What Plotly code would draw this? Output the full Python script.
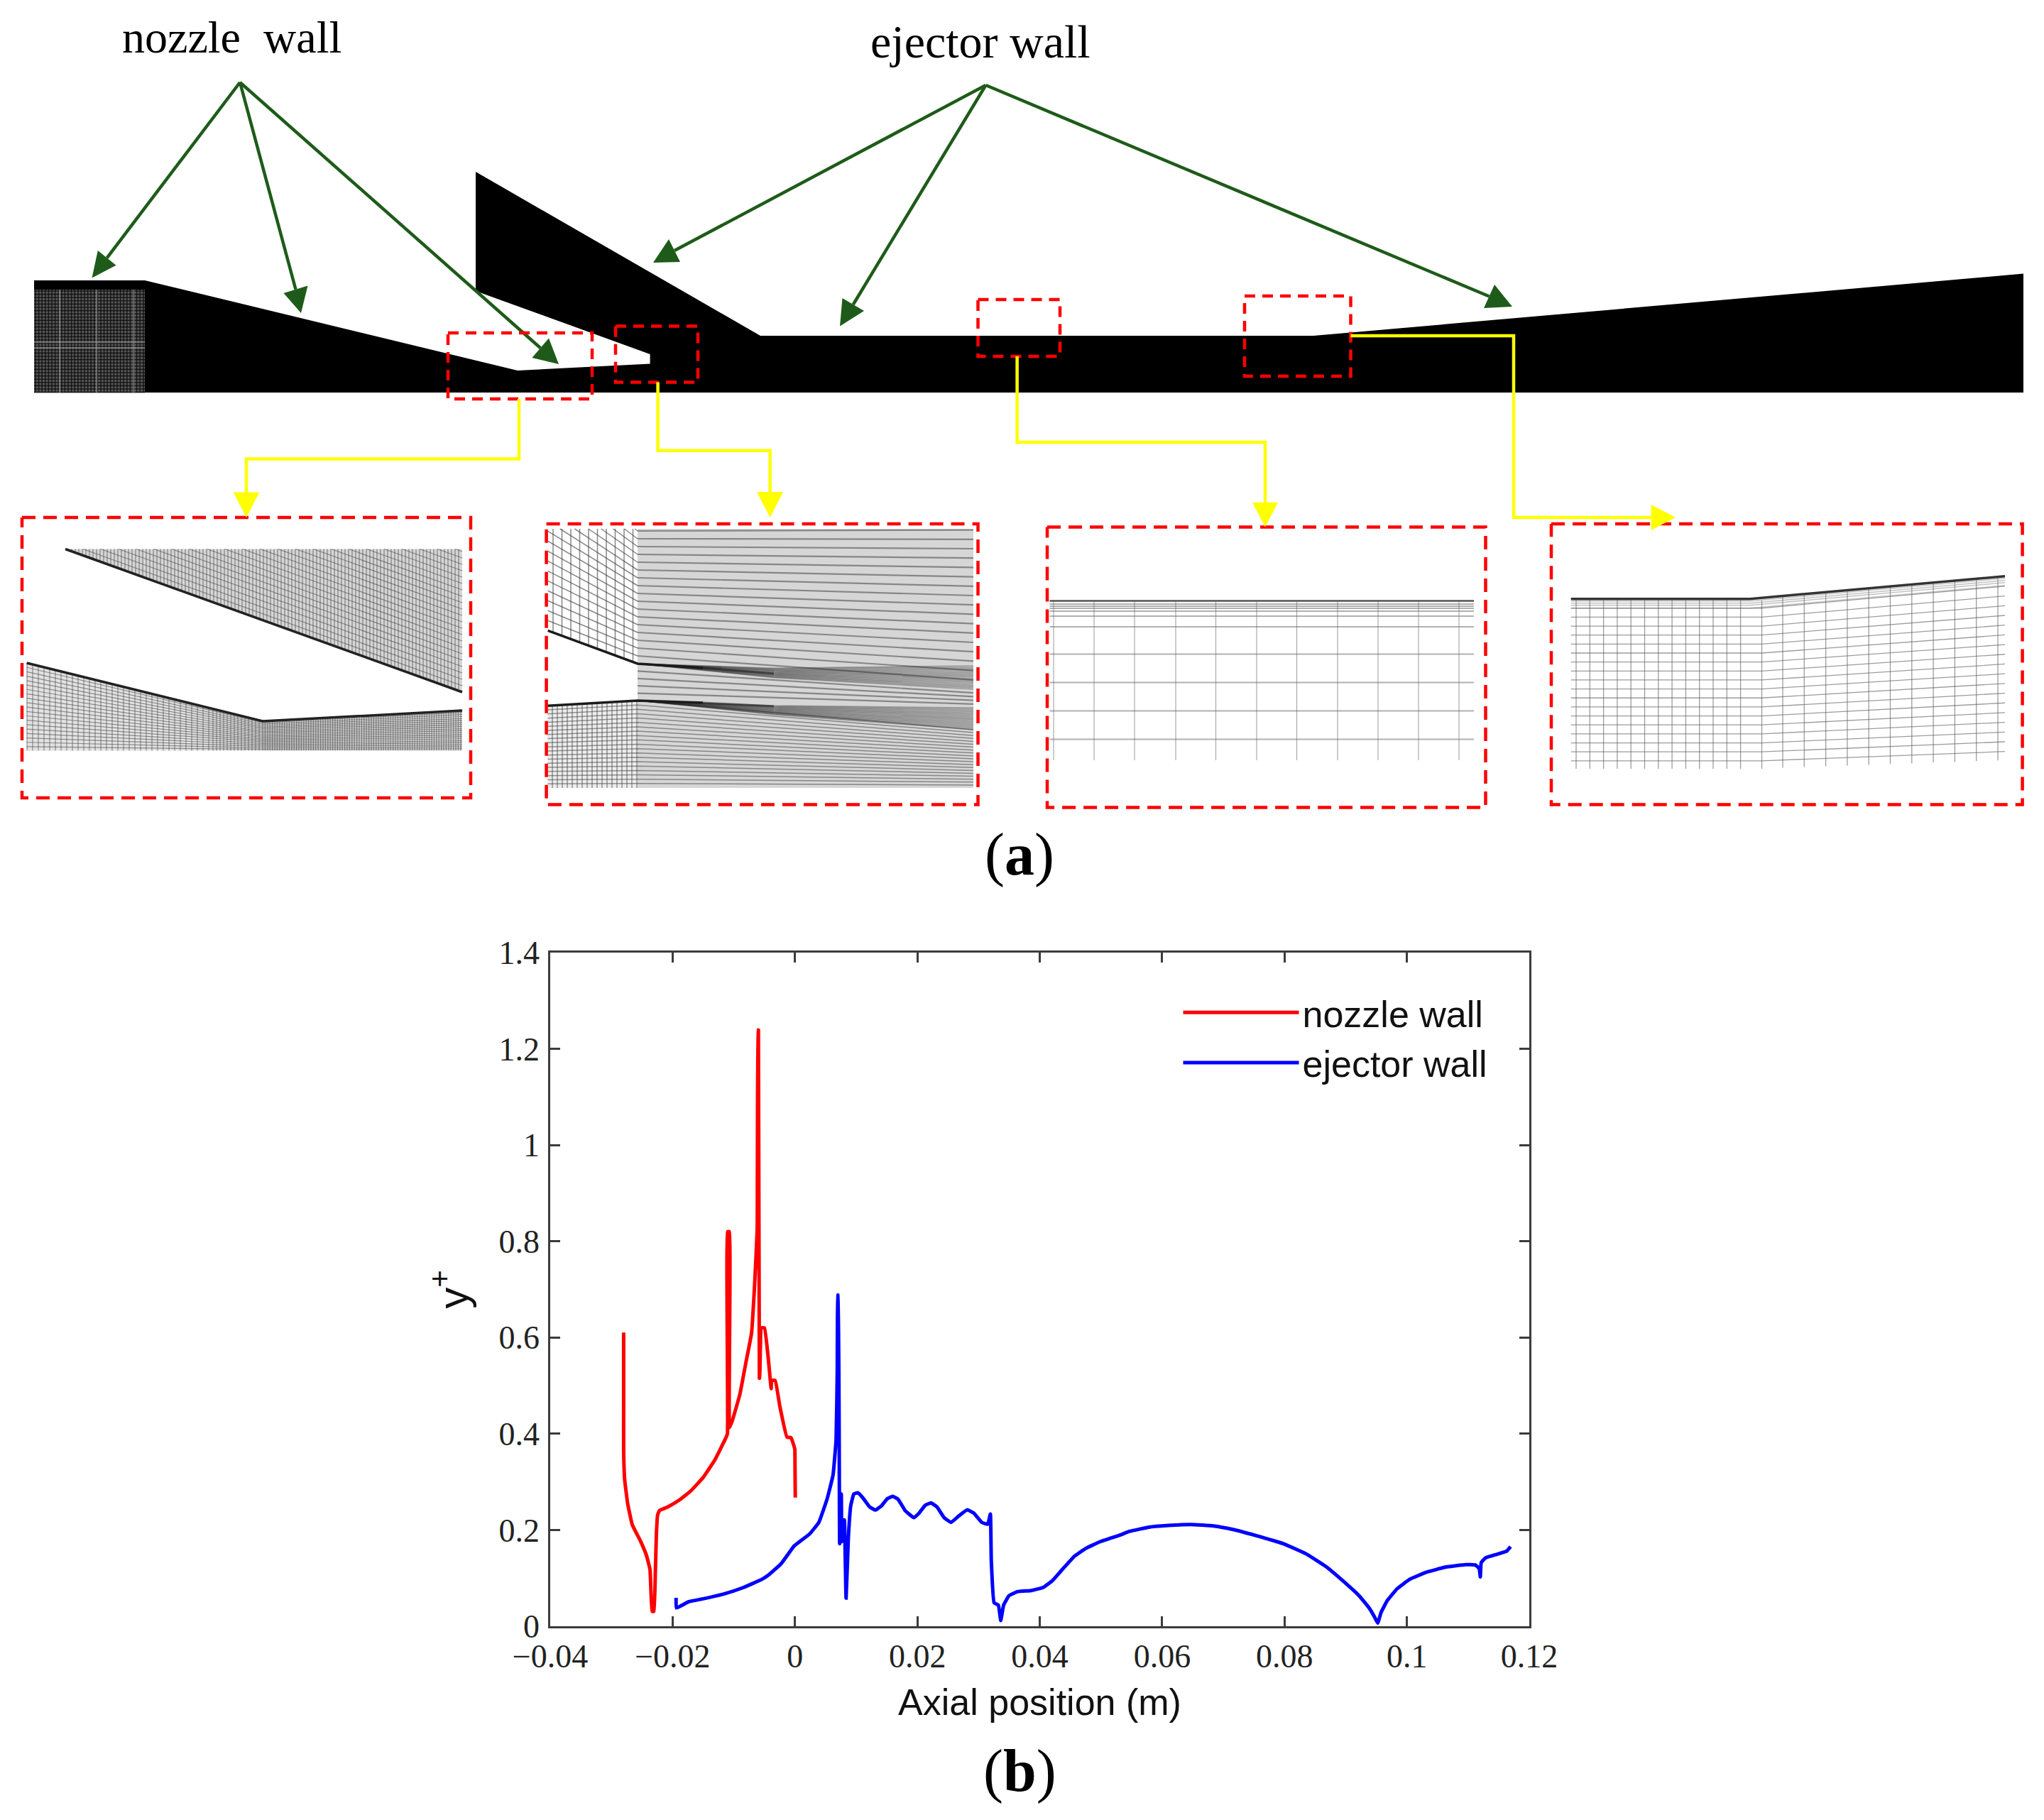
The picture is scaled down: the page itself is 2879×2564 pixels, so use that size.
import numpy as np
import plotly.graph_objects as go

W, H = 2879, 2564

# ---------- chart (b) data ----------
x_ticks = [-0.04, -0.02, 0, 0.02, 0.04, 0.06, 0.08, 0.1, 0.12]
x_tick_labels = ["\u22120.04", "\u22120.02", "0", "0.02", "0.04", "0.06", "0.08", "0.1", "0.12"]
y_ticks = [0, 0.2, 0.4, 0.6, 0.8, 1, 1.2, 1.4]
y_tick_labels = ["0", "0.2", "0.4", "0.6", "0.8", "1", "1.2", "1.4"]

nozzle_x = [-.0280, -.0280, -.0280, -.02783, -.02735, -.02659, -.02523, -.02427, -.02369, -.02335, -.02306, -.02281,
            -.02265, -.02246, -.02215, -.0208, -.01887, -.01694, -.01501, -.01308, -.01134, -.01104, -.01102, -.01072,
            -.0107, -.01018, -.00902, -.00806, -.0071, -.0066, -.00618, -.00603, -.00598, -.00582, -.00577, -.0055,
            -.00499, -.00439, -.00389, -.00381, -.00323, -.00247, -.00131, -.00065, -.00003, 0, .00005]
nozzle_y = [.6105, .4617, .3633, .3043, .2552, .2109, .1765, .147, .1175, .031, .031, .1175,
            .1913, .2305, .2404, .2478, .2625, .2822, .3093, .3461, .3904, .40, .82, .82,
            .4125, .4297, .4813, .5453, .609, .709, .823, 1.239, 1.239, .5157, .5157, .62,
            .62, .56, .4937, .5107, .5107, .4566, .3928, .3918, .3683, .34, .2674]
ejector_x = [-.01943, -.01938, -.01735, -.01501, -.01164, -.00852, -.0054, -.0042, -.00227, -.00015, .00043, .00236,
             .0039, .00526, .00622, .00672, .00691, .00699, .00705, .0073, .00757, .00765, .00807, .00835, .00873,
             .00911, .00961, .01027, .01105, .01221, .01317, .01413, .0151, .01595, .01684, .018, .01942, .02031,
             .02127, .02223, .02321, .02437, .02552, .02668, .02814, .02918, .03054, .0315, .03193, .03208, .03254,
             .03324, .03363, .03409, .03497, .03633, .03865, .04058, .04212, .04366, .04559, .04753, .04984, .05312,
             .05464, .05785, .06105, .06472, .06838, .07159, .07526, .07984, .0835, .08671, .08992, .09221, .09381,
             .09473, .09523, .09578, .09679, .0984, .10046, .1032, .10641, .10962, .11122, .11182, .112, .11214,
             .11283, .11466, .11627, .11695]
ejector_y = [.059, .038, .051, .057, .067, .080, .0975, .1077, .1298, .1667, .1726, .1913,
             .2158, .265, .3142, .388, .533, .688, .688, .1715, .2748, .176, .2208, .0585, .1863,
             .2503, .2748, .2773, .2674, .2478, .2414, .2503, .265, .2699, .264, .2404, .2257, .2355,
             .2512, .2562, .2478, .2257, .2158, .2282, .2419, .2355, .2158, .212, .233, .1372, .0487,
             .0438, .0118, .0438, .0634, .0718, .0742, .0807, .0954, .1176, .1445, .1618, .1755, .1895,
             .197, .2059, .2094, .2115, .2084, .201, .1887, .1714, .1507, .1246, .0901, .0631, .0384,
             .0187, .0064, .0286, .0532, .0778, .0975, .1123, .1232, .1281, .1271, .1197, .1025, .132,
             .1419, .1493, .1557, .1655]

# ---------- schematic (a) outline, read in picture pixels ----------
domain_x = [48, 204, 729, 915.6, 915.6, 670, 670, 1071, 1850, 2850, 2850, 48, 48]
domain_y = [395, 395, 522, 512.5, 499, 410, 242, 473, 473, 385.5, 553, 553, 395]
arrow_nozzle = [[338, 116], [129.5, 391.5, 137.8, 353, 163.5, 373.7],
                [424, 441, 399.5, 413, 433.5, 402.5], [787, 513, 749.4, 504, 773, 476.5]]
arrow_ejector = [[1388.5, 120], [920, 370, 958, 369, 942, 337],
                 [1183, 459.5, 1186.5, 420, 1217, 438], [2130, 432, 2105, 401, 2090, 434]]
small_boxes = [[631, 834, 469, 562], [867, 983, 459.5, 538.6], [1377.5, 1493, 422, 502], [1753, 1902.5, 417, 530]]
panel_boxes = [[31, 663, 729, 1124], [769.6, 1377.5, 738, 1133.5], [1475, 2092.5, 742.4, 1137.5], [2185, 2848.6, 738, 1133.5]]
yellow_paths = [([731, 731, 347, 347], [562, 646.5, 646.5, 700]),
                ([926.6, 926.6, 1084.6, 1084.6], [538.6, 634.7, 634.7, 700]),
                ([1432.6, 1432.6, 1782, 1782], [502, 623, 623, 715]),
                ([1902.5, 2132, 2132, 2335], [473, 473, 729, 729])]
yellow_heads = [[347, 729, 328.6, 693.5, 365.4, 693.5], [1084.6, 729, 1066, 693, 1103, 693],
                [1782, 742.4, 1764, 707.8, 1800, 707.8], [2360, 729, 2325.6, 711, 2325.6, 747]]
p3_rows = [846.5, 851, 854, 857, 861, 868, 883, 921.6, 961.6, 1001.6, 1041.6]
p3_cols = [1484, 1541, 1598, 1656, 1712.5, 1770, 1826.5, 1884, 1941, 1998, 2055]
texts = [("nozzle\u00a0\u00a0wall", 326, 52, 64, "Liberation Serif"), ("ejector wall", 1381, 58, 66, "Liberation Serif"),
         ("(<b>a</b>)", 1436, 1204, 84, "Liberation Serif"), ("(<b>b</b>)", 1436, 2495, 84, "Liberation Serif")]

fig = go.Figure()
ax = dict(xaxis="x2", yaxis="y2", hoverinfo="skip", showlegend=False)


class Lines:
    def __init__(self):
        self.x, self.y = [], []

    def add(self, xs, ys):
        self.x += list(xs) + [None]
        self.y += list(ys) + [None]

    def draw(self, color, width):
        fig.add_trace(go.Scatter(x=self.x, y=self.y, mode="lines", line=dict(color=color, width=width), **ax))


def fill(xs, ys, color):
    fig.add_trace(go.Scatter(x=xs, y=ys, mode="lines", fill="toself", fillcolor=color, line=dict(width=0), **ax))


def clip_top(x0, y0, x1, y1, top):
    if y0 < top and y1 < top:
        return None
    if y0 < top:
        x0 = x0 + (top - y0) / (y1 - y0) * (x1 - x0)
        y0 = top
    return [x0, x1], [y0, y1]


# ---- main outline -----
fill(domain_x, domain_y, "#000000")
fill([48, 204, 204, 48, 48], [408, 408, 553, 553, 408], "#565656")
m = Lines()
for gx in np.arange(50, 204, 4.6):
    m.add([gx, gx], [408, 553])
for gy in np.arange(410, 553, 4.6):
    m.add([48, 204], [gy, gy])
m.draw("rgba(0,0,0,0.65)", 1.6)
m = Lines()
for gx in [84, 136, 188]:
    m.add([gx, gx], [408, 553])
for gy in [482, 490]:
    m.add([48, 204], [gy, gy])
m.draw("rgba(170,170,170,0.45)", 2.5)

# ---- green arrows -----
for group in (arrow_nozzle, arrow_ejector):
    ox, oy = group[0]
    for tx, ty, ax1, ay1, ax2, ay2 in group[1:]:
        fig.add_trace(go.Scatter(x=[ox, (ax1 + ax2) / 2], y=[oy, (ay1 + ay2) / 2], mode="lines",
                                 line=dict(color="#1e5b1a", width=4.5), **ax))
        fill([tx, ax1, ax2, tx], [ty, ay1, ay2, ty], "#1e5b1a")

# ---- panel 1 mesh -----
wall1 = lambda x: 773.5 + (x - 92) * (975.0 - 773.5) / (651 - 92)
fill([92, 651, 651, 92], [773.5, 773.5, 975, 773.5], "#d6d6d6")
m = Lines()
for gx in np.arange(96, 651, 5.0):
    m.add([gx, gx], [773.5, wall1(gx)])
for d in np.arange(9, 400, 9.0):
    seg = clip_top(92, wall1(92) - d, 651, wall1(651) - d, 773.5)
    if seg and seg[0][0] < 651:
        m.add(*seg)
m.draw("rgba(70,70,70,0.55)", 1.3)
low_x = [37.7, 370, 651]
low_y = [934, 1016, 1001]
fill(low_x + [651, 37.7, 37.7], low_y + [1057.5, 1057.5, 934], "#e2e2e2")
m = Lines()
for gx in list(np.arange(38, 300, 8.0)) + list(np.arange(300, 370, 5.0)) + list(np.arange(370, 651, 3.4)):
    m.add([gx, gx], [float(np.interp(gx, low_x, low_y)), 1057.5])
for eta in np.linspace(0.045, 1, 20):
    m.add(low_x, [1057.5 - eta * (1057.5 - v) for v in low_y])
m.draw("rgba(70,70,70,0.55)", 1.2)
e = Lines()
e.add([92, 651], [773.5, 975])
e.add(low_x, low_y)
e.draw("#222222", 3.5)

# ---- panel 2 mesh -----
fill([898, 1371, 1371, 898, 898], [745, 745, 1110, 1110, 745], "#d6d6d6")
fill([771.4, 898, 898, 771.4, 771.4], [994.3, 987, 1110, 1110, 994.3], "#ececec")
m = Lines()
for gx in np.arange(779, 898, 12.5):
    m.add([gx, gx], [745, float(np.interp(gx, [771.7, 898.3], [888.3, 935]))])
for k in range(1, 60):
    seg = clip_top(771.7, 888.3 - 14 * k, 898, 935 - 11 * k, 745)
    if seg:
        m.add(*seg)
m.draw("rgba(70,70,70,0.65)", 1.5)
m = Lines()
for k in range(1, 50):
    seg = clip_top(898, 935 - 11.0 * k, 1371, 971 - 13.2 * k, 745)
    if seg:
        m.add(*seg)
for eta in np.linspace(0.2, 0.8, 4):
    m.add([898, 1371], [935 + 52 * eta, 971 + 26 * eta])
m.draw("rgba(70,70,70,0.55)", 2.2)
m = Lines()
for gx in np.arange(778, 898, 7.0):
    m.add([gx, gx], [float(np.interp(gx, [771.7, 898], [994.3, 987])), 1110])
for eta in np.linspace(0.05, 1, 20):
    m.add([771.4, 898, 1371], [1110 - eta * (1110 - 994.3), 1110 - eta * (1110 - 987), 1110 - eta * (1110 - 1028)])
m.draw("rgba(70,70,70,0.55)", 1.5)
fan = Lines()
for v in np.linspace(938, 971, 18):
    fan.add([898, 1090, 1371], [935, 935 + 192 * (v - 935) / 473 + 5, v])
for v in np.linspace(997, 1028, 18):
    fan.add([898, 1090, 1371], [987, 987 + 192 * (v - 987) / 473 + 3, v])
fan.draw("rgba(40,40,40,0.34)", 1.6)
e = Lines()
e.add([771.7, 898, 990], [888.3, 935, 941])
e.add([771.7, 898, 990], [994.3, 987, 990])
e.draw("#1c1c1c", 3.5)
e = Lines()
e.add([990, 1090], [941, 949])
e.add([990, 1090], [990, 995])
e.draw("rgba(28,28,28,0.55)", 3)

# ---- panel 3 mesh -----
m = Lines()
for gy in p3_rows[1:]:
    m.add([1478.5, 2076], [gy, gy])
m.draw("rgba(100,100,100,0.5)", 2)
m = Lines()
for gx in p3_cols:
    m.add([gx, gx], [846.5, 1071])
m.draw("rgba(100,100,100,0.55)", 1.2)
e = Lines()
e.add([1478.5, 2076], [p3_rows[0], p3_rows[0]])
e.draw("#555555", 2.6)

# ---- panel 4 mesh -----
m = Lines()
for gy_o in list(np.arange(580, 1131, 31.0)):
    gy = 620 + gy_o / 2.45
    t = (gy - 843.7) / (1083 - 843.7)
    right = gy - (31.9 + t * (12.2 - 31.9))
    m.add([2212.7, 2481.5, 2824], [gy, gy, right])
for gx in np.arange(2220, 2465, 19.3):
    m.add([gx, gx], [843.7, 1083])
m.add([2481.5, 2481.5], [846, 1083])
for gx in np.arange(2511, 2830, 30.3):
    m.add([gx, gx], [843.7 - (gx - 2465) * 31.9 / 359, 1083 - (gx - 2465) * 12 / 359])
m.draw("rgba(90,90,90,0.6)", 1.3)
m = Lines()
for d in [3, 6, 9, 13]:
    m.add([2212.7, 2465, 2824], [843.7 + d, 843.7 + d, 811.8 + d])
m.draw("rgba(120,120,120,0.45)", 1.6)
e = Lines()
e.add([2212.7, 2465, 2824], [843.7, 843.7, 811.8])
e.draw("#333333", 3.5)

# ---- dashed boxes -----
for boxes, dash in ((small_boxes, "15px,10px"), (panel_boxes, "19px,11px")):
    b = Lines()
    for x0, x1, y0, y1 in boxes:
        b.add([x0, x1, x1, x0, x0], [y0, y0, y1, y1, y0])
    fig.add_trace(go.Scatter(x=b.x, y=b.y, mode="lines", line=dict(color="#ff0000", width=4.5, dash=dash), **ax))

# ---- yellow leaders -----
for px, py in yellow_paths:
    fig.add_trace(go.Scatter(x=px, y=py, mode="lines", line=dict(color="#ffff00", width=4.5), **ax))
for tx, ty, x1, y1, x2, y2 in yellow_heads:
    fill([tx, x1, x2, tx], [ty, y1, y2, ty], "#ffff00")

# ---- chart (b) -----
fig.add_trace(go.Scatter(x=nozzle_x, y=nozzle_y, mode="lines", name="nozzle wall",
                         line=dict(color="#ff0000", width=5, shape="spline", smoothing=0.3)))
fig.add_trace(go.Scatter(x=ejector_x, y=ejector_y, mode="lines", name="ejector wall",
                         line=dict(color="#0000ff", width=5, shape="spline", smoothing=0.3)))

annots = [dict(x=tx, y=ty, xref="x2", yref="y2", text=s, showarrow=False, xanchor="center", yanchor="middle",
               font=dict(family=fam, size=sz, color="#000000")) for s, tx, ty, sz, fam in texts]

AX = "#3c3c3c"
fig.update_layout(
    width=W, height=H, margin=dict(l=0, r=0, t=0, b=0), paper_bgcolor="#ffffff", plot_bgcolor="rgba(0,0,0,0)",
    annotations=annots,
    xaxis=dict(domain=[775 / W, 2154 / W], range=[-0.04, 0.12], tickvals=x_ticks, ticktext=x_tick_labels,
               ticks="inside", ticklen=14, tickwidth=2.5, tickcolor=AX, showline=True, linewidth=2.5, linecolor=AX,
               mirror="ticks", showgrid=False, zeroline=False, anchor="y", automargin=False,
               tickfont=dict(family="Liberation Serif", size=46, color="#222222"),
               title=dict(text="Axial position (m)", font=dict(family="Liberation Sans", size=52, color="#111111"), standoff=22)),
    yaxis=dict(domain=[1 - 2291 / H, 1 - 1342 / H], range=[0, 1.4], tickvals=y_ticks, ticktext=y_tick_labels,
               ticks="inside", ticklen=14, tickwidth=2.5, tickcolor=AX, showline=True, linewidth=2.5, linecolor=AX,
               mirror="ticks", showgrid=False, zeroline=False, anchor="x", automargin=False, ticklabelstandoff=3,
               tickfont=dict(family="Liberation Serif", size=46, color="#222222"),
               title=dict(text="y<sup>+</sup>", font=dict(family="Liberation Sans", size=60, color="#111111"), standoff=24)),
    xaxis2=dict(domain=[0, 1], range=[0, W], visible=False, anchor="y2"),
    yaxis2=dict(domain=[0, 1], range=[H, 0], visible=False, anchor="x2"),
    legend=dict(x=1661.5 / W, y=1 - 1386 / H, xanchor="left", yanchor="top", itemwidth=163, bgcolor="rgba(0,0,0,0)",
                font=dict(family="Liberation Sans", size=52, color="#111111"), traceorder="normal"),
)
fig.write_html("out.html", config={"displayModeBar": False}, post_script="document.body.style.margin='0';")
